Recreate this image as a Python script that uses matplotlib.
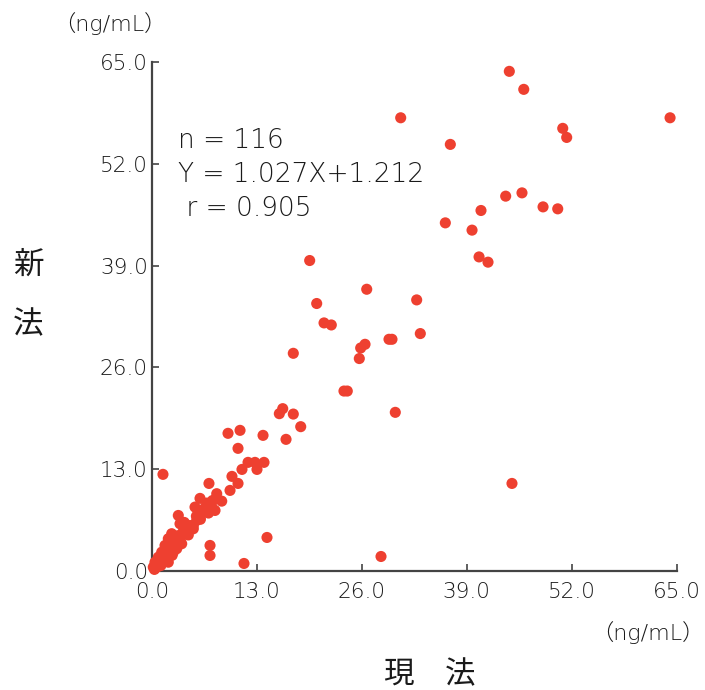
import numpy as np
import matplotlib.pyplot as plt

plt.rcParams['font.family'] = ['DejaVu Sans', 'Noto Sans CJK JP']

# 現法 (x) vs 新法 (y), ng/mL
current = [
    44.28, 46.07, 30.82, 64.20, 50.90, 51.39, 36.97, 43.83, 45.85, 48.46,
    50.28, 40.77, 36.35, 39.66, 40.53, 41.64,
    19.54, 26.61, 20.41, 32.80, 21.32, 22.22, 26.40, 25.86, 29.37, 29.74,
    33.25, 17.51, 25.69, 23.79, 24.20, 16.20, 15.78, 17.51, 30.15, 18.43,
    16.61,
    9.42, 10.91, 10.66, 13.76, 11.90, 12.76, 13.88, 11.15, 13.01, 9.91,
    7.06, 10.66, 1.36, 14.25, 11.40, 44.61, 28.38,
    9.67, 8.02, 8.64, 5.95, 6.78, 7.40, 7.81, 5.33, 5.74, 6.36,
    5.95, 5.54, 5.12, 3.26, 3.47, 4.09, 5.12, 2.44, 2.02, 2.85,
    3.26, 3.68, 1.61, 2.23, 3.06, 1.20, 1.82, 2.64, 7.19, 7.19,
    0.78, 1.40, 2.02, 0.37, 0.99, 0.16, 0.78, 0.37,
    0.5, 0.9, 1.1, 1.5, 1.7, 2.0, 2.3, 2.5, 2.7, 3.0,
    3.2, 3.5, 3.8, 4.2, 4.5, 4.0, 4.7, 5.5, 6.0, 6.5,
    7.0, 7.5, 0.3, 1.3,
]
new = [
    63.81, 61.51, 57.88, 57.88, 56.53, 55.37, 54.48, 47.87, 48.29, 46.50,
    46.25, 46.04, 44.46, 43.53, 40.11, 39.44,
    39.65, 35.98, 34.16, 34.62, 31.68, 31.42, 28.95, 28.48, 29.59, 29.59,
    30.32, 27.80, 27.13, 22.98, 22.98, 20.73, 20.09, 20.04, 20.26, 18.43,
    16.81,
    17.58, 17.96, 15.66, 17.32, 13.87, 13.87, 13.87, 12.97, 12.97, 12.08,
    11.18, 11.18, 12.34, 4.28, 0.96, 11.18, 1.85,
    10.29, 9.87, 8.92, 9.27, 8.67, 8.24, 7.73, 8.16, 7.52, 7.73,
    6.88, 6.46, 5.82, 7.09, 6.03, 5.60, 5.39, 4.76, 4.12, 4.12,
    3.68, 3.48, 3.26, 3.04, 2.84, 2.40, 2.20, 2.40, 3.26, 1.98,
    1.76, 1.56, 1.12, 1.12, 0.92, 0.49, 0.58, 0.32,
    1.0, 1.5, 0.7, 1.9, 2.8, 2.6, 3.5, 2.0, 3.9, 3.3,
    4.5, 4.0, 4.9, 5.1, 4.6, 6.2, 5.8, 7.0, 6.6, 8.0,
    7.4, 9.0, 0.2, 1.1,
]
ticks = [0.0, 13.0, 26.0, 39.0, 52.0, 65.0]
stats = ['n = 116', 'Y = 1.027X+1.212', ' r = 0.905']

txt = '#1a1a1a'

fig = plt.figure(figsize=(7.05, 6.9), dpi=100)
ax = fig.add_axes([0.2156, 0.1725, 0.744, 0.7376])

ax.scatter(current, new, s=64, color='#ee4030', edgecolors='none',
           clip_on=False, zorder=3)

ax.set_xlim(0, 65)
ax.set_ylim(0, 65)
ax.set_xticks(ticks)
ax.set_yticks(ticks)
ax.set_xticklabels(['%.1f' % t for t in ticks], fontweight='light')
ax.set_yticklabels(['%.1f' % t for t in ticks], fontweight='light')
for side in ['top', 'right']:
    ax.spines[side].set_visible(False)
for side in ['left', 'bottom']:
    ax.spines[side].set_color('#444444')
    ax.spines[side].set_linewidth(1.6)
ax.tick_params(direction='in', length=5, width=1.2, color='#444444',
               labelsize=15.5, labelcolor=txt)
ax.tick_params(axis='x', pad=8)
ax.tick_params(axis='y', pad=3)

# stats block, positions in pixels from the top of the figure
for i, s in enumerate(stats):
    ax.text(178, 690 - (141 + i * 34), s, transform=None, fontsize=19,
            fontweight='light', color=txt, va='center')

fig.text(110 / 705, 1 - 24 / 690, '（ng/mL）', fontsize=16,
         fontweight='light', color=txt, ha='center', va='center')
fig.text(648 / 705, 1 - 633 / 690, '（ng/mL）', fontsize=16,
         fontweight='light', color=txt, ha='center', va='center')
fig.text(28 / 705, 1 - 265 / 690, '新', fontsize=22,
         family='Noto Sans CJK JP', color=txt, ha='center', va='center')
fig.text(28 / 705, 1 - 325 / 690, '法', fontsize=22,
         family='Noto Sans CJK JP', color=txt, ha='center', va='center')
fig.text(430 / 705, 1 - 675 / 690, '現　法', fontsize=22,
         family='Noto Sans CJK JP', color=txt, ha='center', va='center')

fig.savefig('out.png', dpi=100)
